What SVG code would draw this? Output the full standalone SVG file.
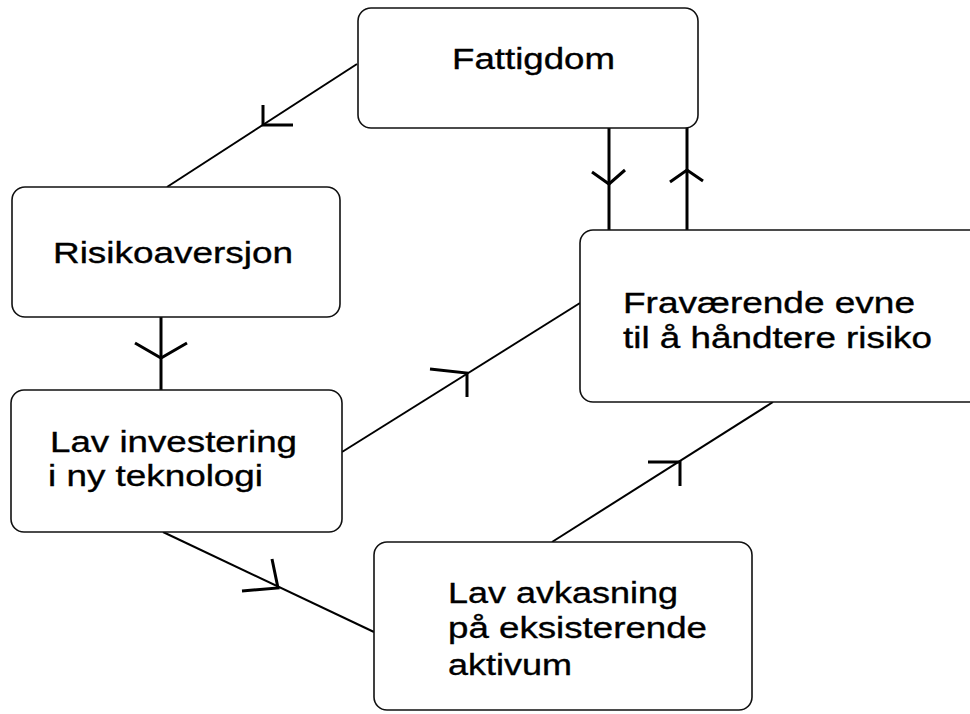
<svg xmlns="http://www.w3.org/2000/svg" width="970" height="714" viewBox="0 0 970 714">
<style>
.box{fill:#fff;stroke:#111;stroke-width:1.6}
.t{font-family:"Liberation Sans",Arial,sans-serif;font-size:29px;fill:#000;stroke:#000;stroke-width:0.35}
.ln{fill:none;stroke:#000;stroke-width:2}
.thk{fill:none;stroke:#000;stroke-width:3}
.ah{fill:none;stroke:#000;stroke-width:3;stroke-linejoin:miter}
</style>
<rect width="970" height="714" fill="#fff"/>
<g id="connectors">
<line class="ln" x1="357" y1="64" x2="167" y2="187"/>
<polyline class="ah" points="263,105 263,125 293,125"/>
<line class="thk" x1="609" y1="128" x2="609" y2="230"/>
<polyline class="ah" points="592,172 609,184 625,170"/>
<line class="thk" x1="687" y1="128" x2="687" y2="230"/>
<polyline class="ah" points="670,182 687,170 703,181"/>
<line class="thk" x1="161" y1="317" x2="161" y2="390"/>
<polyline class="ah" points="135,343 161,358 187,343"/>
<line class="ln" x1="342" y1="452" x2="580" y2="303"/>
<polyline class="ah" points="430,369 467,373 467,397"/>
<line class="ln" x1="163" y1="532" x2="374" y2="632"/>
<polyline class="ah" points="272,559 278,588 242,591"/>
<line class="ln" x1="552" y1="542" x2="773" y2="402"/>
<polyline class="ah" points="648,462 680,462 680,486"/>
</g>
<g id="fattigdom">
<rect class="box" x="358" y="8" width="340" height="120" rx="13"/>
<text class="t" x="452" y="69" textLength="163" lengthAdjust="spacingAndGlyphs">Fattigdom</text>
</g>
<g id="risikoaversjon">
<rect class="box" x="12" y="187" width="328" height="130" rx="13"/>
<text class="t" x="53" y="263" textLength="240" lengthAdjust="spacingAndGlyphs">Risikoaversjon</text>
</g>
<g id="lav-investering">
<rect class="box" x="11" y="390" width="331" height="142" rx="13"/>
<text class="t" x="50" y="452" textLength="247" lengthAdjust="spacingAndGlyphs">Lav investering</text>
<text class="t" x="48" y="486" textLength="215" lengthAdjust="spacingAndGlyphs">i ny teknologi</text>
</g>
<g id="fravaerende">
<rect class="box" x="580" y="230" width="420" height="172" rx="13"/>
<text class="t" x="623" y="313" textLength="292" lengthAdjust="spacingAndGlyphs">Fraværende evne</text>
<text class="t" x="623" y="348" textLength="309" lengthAdjust="spacingAndGlyphs">til å håndtere risiko</text>
</g>
<g id="lav-avkasning">
<rect class="box" x="374" y="542" width="378" height="168" rx="13"/>
<text class="t" x="448" y="603" textLength="230" lengthAdjust="spacingAndGlyphs">Lav avkasning</text>
<text class="t" x="448" y="638" textLength="259" lengthAdjust="spacingAndGlyphs">på eksisterende</text>
<text class="t" x="448" y="675" textLength="124" lengthAdjust="spacingAndGlyphs">aktivum</text>
</g>
</svg>
